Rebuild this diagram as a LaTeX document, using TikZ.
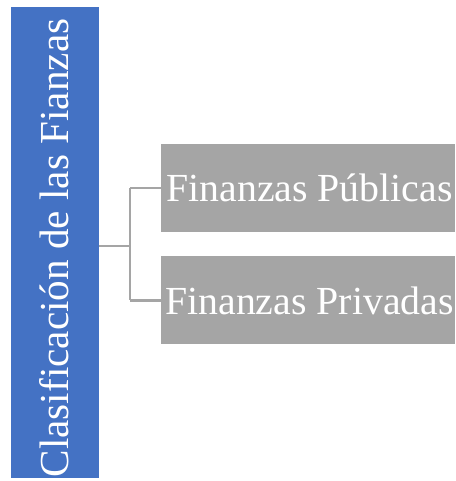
\documentclass[tikz,border=0pt]{standalone}
\usepackage{fontspec}
\setmainfont{Liberation Serif}
\definecolor{barblue}{HTML}{4472C4}
\definecolor{boxgray}{HTML}{A5A5A5}
\begin{document}
\begin{tikzpicture}[x=1pt,y=1pt,
  barbox/.style={draw=none, fill=barblue, minimum width=88pt, minimum height=471pt, inner sep=0pt},
  itembox/.style={draw=none, fill=boxgray, minimum width=294pt, minimum height=88pt, inner sep=0pt},
  itemlabel/.style={text=white, inner sep=0pt, font=\fontsize{39.8}{40}\selectfont},
  barlabel/.style={rotate=90, text=white, inner sep=0pt, font=\fontsize{41.2}{41}\selectfont},
  link/.style={draw=boxgray, line width=2.2pt}]
\useasboundingbox (0,0) rectangle (455,481);
\node[barbox] (bar) at (55,238.5) {};
\node[barlabel] (barlab) at (54,233) {Clasificación de las Fianzas};
\node[itembox] (pub) at (308,293) {};
\node[itembox] (priv) at (308,180.5) {};
\node[itemlabel] (publab) at (309.5,293) {Finanzas Públicas};
\node[itemlabel] (privlab) at (309.5,180.5) {Finanzas Privadas};
\coordinate (fork) at (130,235);
\draw[link] (bar.east |- fork) -- (fork);
\draw[link] (fork |- pub.west) -- (fork |- priv.west);
\draw[link] (fork |- pub.west) -- (pub.west);
\draw[link] (fork |- priv.west) -- (priv.west);
\end{tikzpicture}
\end{document}
